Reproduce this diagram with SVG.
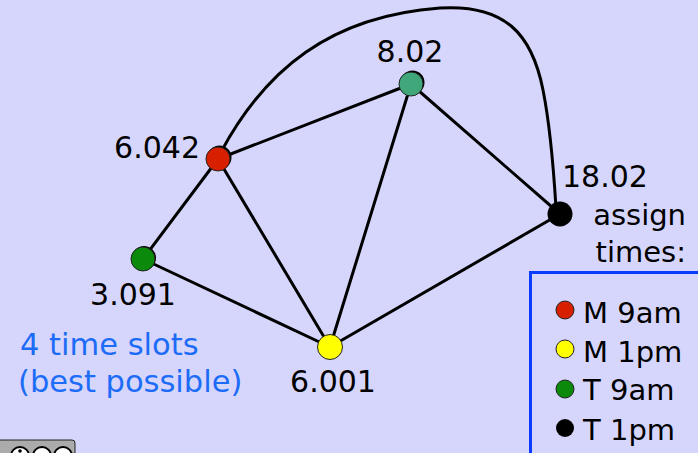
<svg xmlns="http://www.w3.org/2000/svg" width="698" height="453" viewBox="0 0 698 453">
  <style>
    .edge { fill: none; stroke: #000; stroke-width: 3; stroke-linecap: round; }
    .shadow { fill: #000; }
    .dot { stroke: #222; stroke-width: 1; }
    .lbl { font-family: "DejaVu Sans", "Liberation Sans", sans-serif; font-size: 30px; fill: #000; }
    .note { font-family: "DejaVu Sans", "Liberation Sans", sans-serif; font-size: 30.5px; fill: #1c6cf7; }
    .key { font-family: "DejaVu Sans", "Liberation Sans", sans-serif; font-size: 29px; fill: #000; }
  </style>

  <rect width="698" height="453" fill="#d6d6fc"/>

  <!-- connectors -->
  <g id="connectors">
    <line class="edge" x1="218" y1="159" x2="411" y2="84"/>
    <line class="edge" x1="218" y1="159" x2="143" y2="259"/>
    <line class="edge" x1="218" y1="159" x2="330" y2="347"/>
    <line class="edge" x1="411" y1="84" x2="330" y2="347"/>
    <line class="edge" x1="411" y1="84" x2="560" y2="214"/>
    <line class="edge" x1="143" y1="259" x2="330" y2="347"/>
    <line class="edge" x1="330" y1="347" x2="560" y2="214"/>
    <path class="edge" d="M 221,152 C 265,70 330,16 440,8 C 505,4 532,34 543,90 C 551,130 554,175 556,208"/>
  </g>

  <!-- nodes -->
  <g id="node-6042">
    <circle class="shadow" cx="219.5" cy="157.5" r="12"/>
    <circle class="dot" cx="218" cy="159" r="12" fill="#d62000"/>
    <text class="lbl" x="200" y="158" text-anchor="end">6.042</text>
  </g>
  <g id="node-802">
    <circle class="shadow" cx="412.5" cy="82.5" r="12"/>
    <circle class="dot" cx="411" cy="84" r="12" fill="#40a77a"/>
    <text class="lbl" x="410" y="62" text-anchor="middle">8.02</text>
  </g>
  <g id="node-1802">
    <circle class="shadow" cx="560" cy="214" r="12.5"/>
    <text class="lbl" x="562" y="187">18.02</text>
  </g>
  <g id="node-3091">
    <circle class="shadow" cx="144" cy="258" r="12"/>
    <circle class="dot" cx="143" cy="259" r="12" fill="#0a890a"/>
    <text class="lbl" x="133" y="305" text-anchor="middle">3.091</text>
  </g>
  <g id="node-6001">
    <circle class="dot" cx="330" cy="347" r="12.5" fill="#ffff00"/>
    <text class="lbl" x="333" y="392" text-anchor="middle">6.001</text>
  </g>

  <!-- caption -->
  <g id="caption">
    <text class="note" x="20" y="355">4 time slots</text>
    <text class="note" x="18" y="392">(best possible)</text>
  </g>

  <!-- assignment legend -->
  <g id="legend">
    <text class="key" x="686" y="225" text-anchor="end">assign</text>
    <text class="key" x="686" y="262" text-anchor="end">times:</text>
    <rect x="530.5" y="272.5" width="180" height="200" fill="none" stroke="#0a3cff" stroke-width="3"/>
    <circle class="dot" cx="565" cy="310" r="9" fill="#d62000"/>
    <text class="key" x="583" y="323">M 9am</text>
    <circle class="dot" cx="565" cy="349" r="9" fill="#ffff00"/>
    <text class="key" x="583" y="362">M 1pm</text>
    <circle class="dot" cx="565" cy="389" r="9" fill="#0a890a"/>
    <text class="key" x="583" y="400">T 9am</text>
    <circle cx="565" cy="428" r="9" fill="#000"/>
    <text class="key" x="583" y="440">T 1pm</text>
  </g>

  <!-- licence badge, cut off at the bottom edge -->
  <g id="badge">
    <rect x="-4" y="440" width="79" height="24" rx="3" fill="#aaabaa" stroke="#222" stroke-width="1"/>
    <circle cx="20" cy="456" r="9" fill="#fff" stroke="#000" stroke-width="2"/>
    <circle cx="20" cy="451" r="1.8" fill="#000"/>
    <circle cx="42" cy="456" r="9" fill="#fff" stroke="#000" stroke-width="2"/>
    <circle cx="63" cy="456" r="9" fill="#fff" stroke="#000" stroke-width="2"/>
  </g>
</svg>
